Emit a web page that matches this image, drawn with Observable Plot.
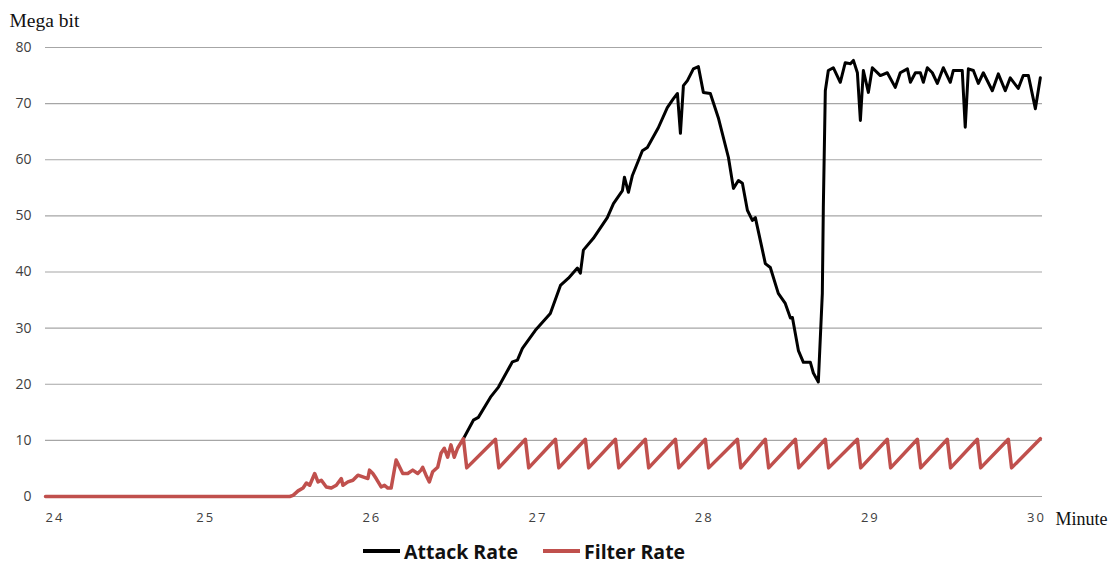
<!DOCTYPE html>
<html>
<head>
<meta charset="utf-8">
<script src="https://cdn.jsdelivr.net/npm/d3@7"></script>
<script src="https://cdn.jsdelivr.net/npm/@observablehq/plot@0.6"></script>
<style>
  html, body { margin: 0; padding: 0; background: #fff; }
  #chart { position: relative; width: 1112px; }
  .legend { display: flex; align-items: center; padding-left: 363px; height: 24px;
            font-family: "Open Sans", sans-serif; font-weight: bold; font-size: 19.5px; color: #111; }
  .legend .sw { display: inline-block; width: 37px; height: 3.5px; margin-right: 4px; }
  .legend .item { display: flex; align-items: center; margin-right: 25px; }
</style>
</head>
<body>
<div id="chart"></div>
<script>
// Axis ticks
const xTicks = [24, 25, 26, 27, 28, 29, 30];
const yTicks = [0, 10, 20, 30, 40, 50, 60, 70, 80];

// Filter rate (Mbit) by minute: idle, noisy ramp, then the 5–10 sawtooth
const filterMinute = [
  24.0, 25.47, 25.49, 25.52, 25.55, 25.57, 25.59, 25.62, 25.64, 25.66, 25.69, 25.72,
  25.75, 25.78, 25.79, 25.82, 25.85, 25.88, 25.91, 25.94, 25.95, 25.97, 25.99, 26.02,
  26.04, 26.06, 26.08, 26.11, 26.12, 26.15, 26.18, 26.21, 26.24, 26.26, 26.27, 26.29,
  26.31, 26.33, 26.36, 26.38, 26.40, 26.42, 26.44, 26.46, 26.48,
  26.515, 26.535, 26.708, 26.728, 26.888, 26.908, 27.069, 27.089, 27.249, 27.269,
  27.430, 27.450, 27.610, 27.630, 27.791, 27.811, 27.971, 27.991, 28.164, 28.184,
  28.332, 28.352, 28.513, 28.533, 28.693, 28.713, 28.886, 28.906, 29.066, 29.086,
  29.247, 29.267, 29.427, 29.447, 29.608, 29.628, 29.794, 29.814, 29.987
];
const filterRate = [
  0, 0, 0.2, 1.0, 1.5, 2.4, 2.0, 4.1, 2.6, 2.9, 1.7, 1.5,
  2.0, 3.2, 2.0, 2.6, 2.9, 3.8, 3.5, 3.2, 4.7, 4.1, 3.2, 1.7,
  2.0, 1.5, 1.5, 6.5, 5.9, 4.1, 4.1, 4.7, 4.1, 4.7, 5.2, 3.8,
  2.6, 4.4, 5.2, 7.7, 8.6, 7.0, 9.2, 7.0, 8.6,
  10.3, 5.1, 10.2, 5.1, 10.2, 5.1, 10.2, 5.1, 10.2, 5.1,
  10.2, 5.1, 10.2, 5.1, 10.2, 5.1, 10.2, 5.1, 10.2, 5.1,
  10.2, 5.1, 10.2, 5.1, 10.2, 5.1, 10.2, 5.1, 10.2, 5.1,
  10.2, 5.1, 10.2, 5.1, 10.2, 5.1, 10.2, 5.1, 10.3
];

// Attack rate (Mbit) by minute, from where it leaves the filter rate
const attackMinute = [
  26.515, 26.575, 26.605, 26.678, 26.726, 26.810, 26.840, 26.870, 26.948, 27.038,
  27.099, 27.147, 27.201, 27.219, 27.237, 27.297, 27.381, 27.418, 27.472, 27.484,
  27.508, 27.532, 27.592, 27.622, 27.688, 27.742, 27.779, 27.803, 27.821, 27.839,
  27.863, 27.899, 27.929, 27.959, 28.001, 28.049, 28.110, 28.140, 28.170, 28.194,
  28.224, 28.254, 28.272, 28.332, 28.362, 28.410, 28.452, 28.483, 28.495, 28.531,
  28.561, 28.603, 28.621, 28.651, 28.675, 28.681, 28.693, 28.711, 28.741, 28.783,
  28.813, 28.844, 28.862, 28.886, 28.904, 28.922, 28.952, 28.976, 29.024, 29.066,
  29.114, 29.144, 29.187, 29.205, 29.235, 29.265, 29.283, 29.307, 29.337, 29.367,
  29.403, 29.445, 29.463, 29.517, 29.535, 29.554, 29.584, 29.614, 29.644, 29.698,
  29.734, 29.776, 29.806, 29.854, 29.884, 29.915, 29.957, 29.987
];
const attackRate = [
  10.3, 13.6, 14.1, 17.7, 19.5, 24.0, 24.3, 26.4, 29.6, 32.6,
  37.6, 38.9, 40.7, 39.8, 43.9, 46.0, 49.7, 52.2, 54.5, 56.9,
  54.2, 57.2, 61.6, 62.2, 65.7, 69.3, 70.9, 71.8, 64.7, 73.2,
  74.1, 76.2, 76.6, 72.0, 71.8, 67.5, 60.4, 54.9, 56.3, 55.8,
  51.0, 49.2, 49.7, 41.5, 40.8, 36.2, 34.4, 31.8, 31.9, 26.0,
  23.9, 23.9, 22.0, 20.4, 36.2, 51.5, 72.3, 75.9, 76.4, 73.8,
  77.3, 77.1, 77.7, 75.5, 67.0, 75.9, 72.0, 76.4, 75.0, 75.5,
  72.9, 75.5, 76.2, 73.8, 75.5, 75.5, 73.8, 76.4, 75.5, 73.6,
  76.4, 73.8, 75.9, 75.9, 65.8, 76.2, 75.9, 73.6, 75.5, 72.3,
  75.3, 72.3, 74.6, 72.7, 75.0, 75.0, 69.1, 74.6
];

const attack = attackMinute.map((m, i) => ({minute: m, rate: attackRate[i]}));
const filter = filterMinute.map((m, i) => ({minute: m, rate: filterRate[i]}));

const plot = Plot.plot({
  width: 1112,
  height: 539,
  marginLeft: 45,
  marginRight: 70,
  marginTop: 47,
  marginBottom: 43,
  style: {fontFamily: "'Open Sans', sans-serif", color: "#404040", background: "#fff"},
  x: {domain: [24, 30], ticks: xTicks, label: null},
  y: {domain: [0, 80], ticks: yTicks, label: null},
  marks: [
    Plot.ruleY(yTicks, {stroke: "#a6a6a6", strokeWidth: 1.2}),
    Plot.axisY({ticks: yTicks, tickSize: 0, tickPadding: 14, fontSize: 14, label: null}),
    // first label sits inside the frame, the rest are nudged slightly left
    Plot.axisX({ticks: xTicks.slice(0, 1), tickFormat: d => String(d), tickSize: 0, tickPadding: 16,
                fontSize: 13, label: null, textAnchor: "start", dx: 0}),
    Plot.axisX({ticks: xTicks.slice(1), tickFormat: d => String(d), tickSize: 0, tickPadding: 16,
                fontSize: 13, label: null, dx: -6}),
    Plot.line(attack, {x: "minute", y: "rate", stroke: "#000", strokeWidth: 3, strokeLinejoin: "round"}),
    Plot.line(filter, {x: "minute", y: "rate", stroke: "#c0504d", strokeWidth: 3.5, strokeLinejoin: "round"}),
    Plot.text(["Mega bit"], {frameAnchor: "top-left", dx: -36, dy: -34, textAnchor: "start",
      fontFamily: "'Liberation Serif', serif", fontSize: 19.5, fill: "#111"}),
    Plot.text(["Minute"], {frameAnchor: "bottom-right", dx: 13, dy: 28, textAnchor: "start",
      fontFamily: "'Liberation Serif', serif", fontSize: 18, fill: "#111"})
  ]
});

// spaced digits on the x tick labels
plot.querySelectorAll("[aria-label='x-axis tick label'] text").forEach(t => t.setAttribute("letter-spacing", "2"));

const chart = document.getElementById("chart");
chart.appendChild(plot);

const legend = document.createElement("div");
legend.className = "legend";
legend.innerHTML =
  '<span class="item"><span class="sw" style="background:#000"></span>Attack Rate</span>' +
  '<span class="item"><span class="sw" style="background:#c0504d"></span>Filter Rate</span>';
chart.appendChild(legend);
</script>
</body>
</html>
